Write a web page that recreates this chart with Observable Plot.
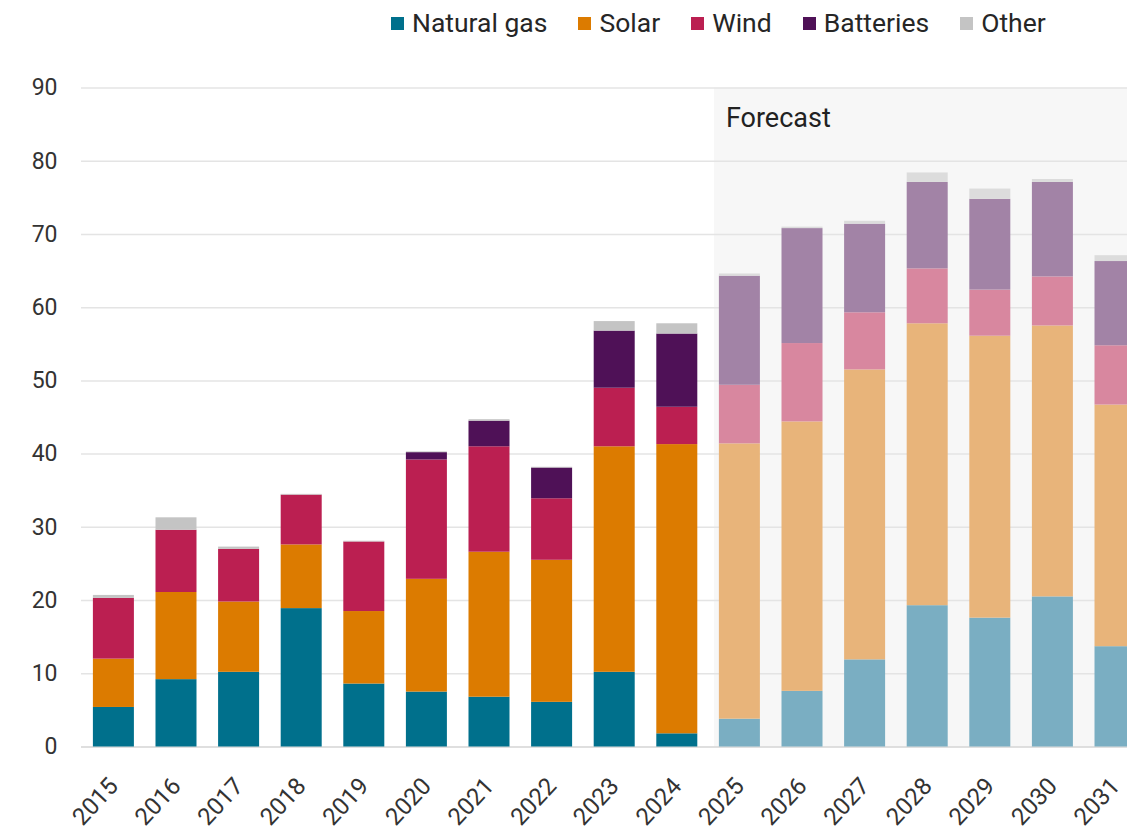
<!DOCTYPE html>
<html>
<head>
<meta charset="utf-8">
<script src="https://cdn.jsdelivr.net/npm/d3@7"></script>
<script src="https://cdn.jsdelivr.net/npm/@observablehq/plot@0.6"></script>
<style>
  html, body { margin: 0; padding: 0; background: #fff; }
  body { width: 1140px; height: 835px; overflow: hidden; font-family: Roboto, "Noto Sans", sans-serif; }
  #legend { position: relative; height: 40px; }
  #legend .items { position: absolute; left: 391px; top: 8px; display: flex; align-items: center; gap: 31px; font-size: 26.5px; color: #262626; line-height: 30px; }
  #legend .item { display: flex; align-items: center; gap: 8px; }
  #legend .sw { width: 13px; height: 13px; display: inline-block; }
  #chart svg { overflow: hidden; display: block; }
</style>
</head>
<body>
<div id="legend"><div class="items"></div></div>
<div id="chart"></div>
<script>
const years = ["2015","2016","2017","2018","2019","2020","2021","2022","2023","2024","2025","2026","2027","2028","2029","2030","2031"];
const series = ["Natural gas", "Solar", "Wind", "Batteries", "Other"];
const naturalGas = [5.4, 9.2, 10.2, 18.9, 8.6, 7.5, 6.8, 6.1, 10.2, 1.8, 3.8, 7.6, 11.9, 19.3, 17.6, 20.5, 13.7];
const solar      = [6.6, 11.9, 9.6, 8.7, 9.9, 15.4, 19.8, 19.4, 30.8, 39.5, 37.6, 36.8, 39.6, 38.5, 38.5, 37.0, 33.0];
const wind       = [8.3, 8.5, 7.2, 6.8, 9.5, 16.3, 14.4, 8.4, 8.0, 5.1, 8.0, 10.7, 7.8, 7.5, 6.3, 6.7, 8.1];
const batteries  = [0, 0, 0, 0, 0, 1.0, 3.5, 4.2, 7.8, 10.0, 14.9, 15.7, 12.1, 11.8, 12.4, 12.9, 11.5];
const other      = [0.4, 1.7, 0.3, 0.1, 0.1, 0.1, 0.2, 0.1, 1.3, 1.4, 0.3, 0.2, 0.4, 1.3, 1.4, 0.4, 0.8];
const yTicks = [0, 10, 20, 30, 40, 50, 60, 70, 80, 90];
const firstForecast = "2025";
const forecastLabel = "Forecast";
const actualColors   = ["#00708c", "#dc7b00", "#bb1f51", "#4f1157", "#c4c4c4"];
const forecastColors = ["#7aaec2", "#e8b47a", "#d8879f", "#a283a6", "#dcdcdc"];

const values = [naturalGas, solar, wind, batteries, other];
const fIndex = years.indexOf(firstForecast);
const forecastYears = years.slice(fIndex);
const yMax = d3.max(yTicks);

const rows = years.flatMap((yr, i) => series.map((s, j) => ({
  year: yr, type: s, value: values[j][i],
  fill: (i >= fIndex ? forecastColors : actualColors)[j]
})));

// legend
const items = document.querySelector("#legend .items");
series.forEach((s, j) => {
  const it = document.createElement("span");
  it.className = "item";
  it.innerHTML = `<span class="sw" style="background:${actualColors[j]}"></span><span>${s}</span>`;
  items.appendChild(it);
});

const chart = Plot.plot({
  width: 1127,
  height: 795,
  marginLeft: 81,
  marginRight: 0,
  marginTop: 47.5,
  marginBottom: 88.5,
  style: {fontFamily: "Roboto, 'Noto Sans', sans-serif", background: "transparent", color: "#333"},
  x: {type: "band", domain: years, range: [81, 1147.4], paddingInner: 0.345, paddingOuter: 0.19, round: false, label: null},
  y: {domain: [0, yMax], label: null},
  color: {type: "identity"},
  marks: [
    Plot.barY(forecastYears, {x: d => d, y1: 0, y2: () => yMax, fill: "#f7f7f7", insetLeft: -5, insetRight: -22}),
    Plot.ruleY(yTicks.filter(d => d > 0), {stroke: "#e4e4e4", strokeWidth: 1.5}),
    Plot.ruleY([0], {stroke: "#d4d4d4", strokeWidth: 1.5}),
    Plot.barY(rows, {x: "year", y: "value", z: "type", fill: "fill", order: series}),
    Plot.text([forecastLabel], {x: () => firstForecast, y: () => yMax, text: d => d, textAnchor: "start", lineAnchor: "top", dx: -14, dy: 20, fontSize: 27, fill: "#222"}),
    Plot.axisY({ticks: yTicks, tickSize: 0, tickPadding: 24, fontSize: 23, fill: "#333", label: null}),
    Plot.axisX({tickSize: 0, tickRotate: -47, tickPadding: 35, fontSize: 24, fill: "#333", label: null})
  ]
});
document.getElementById("chart").appendChild(chart);
</script>
</body>
</html>
